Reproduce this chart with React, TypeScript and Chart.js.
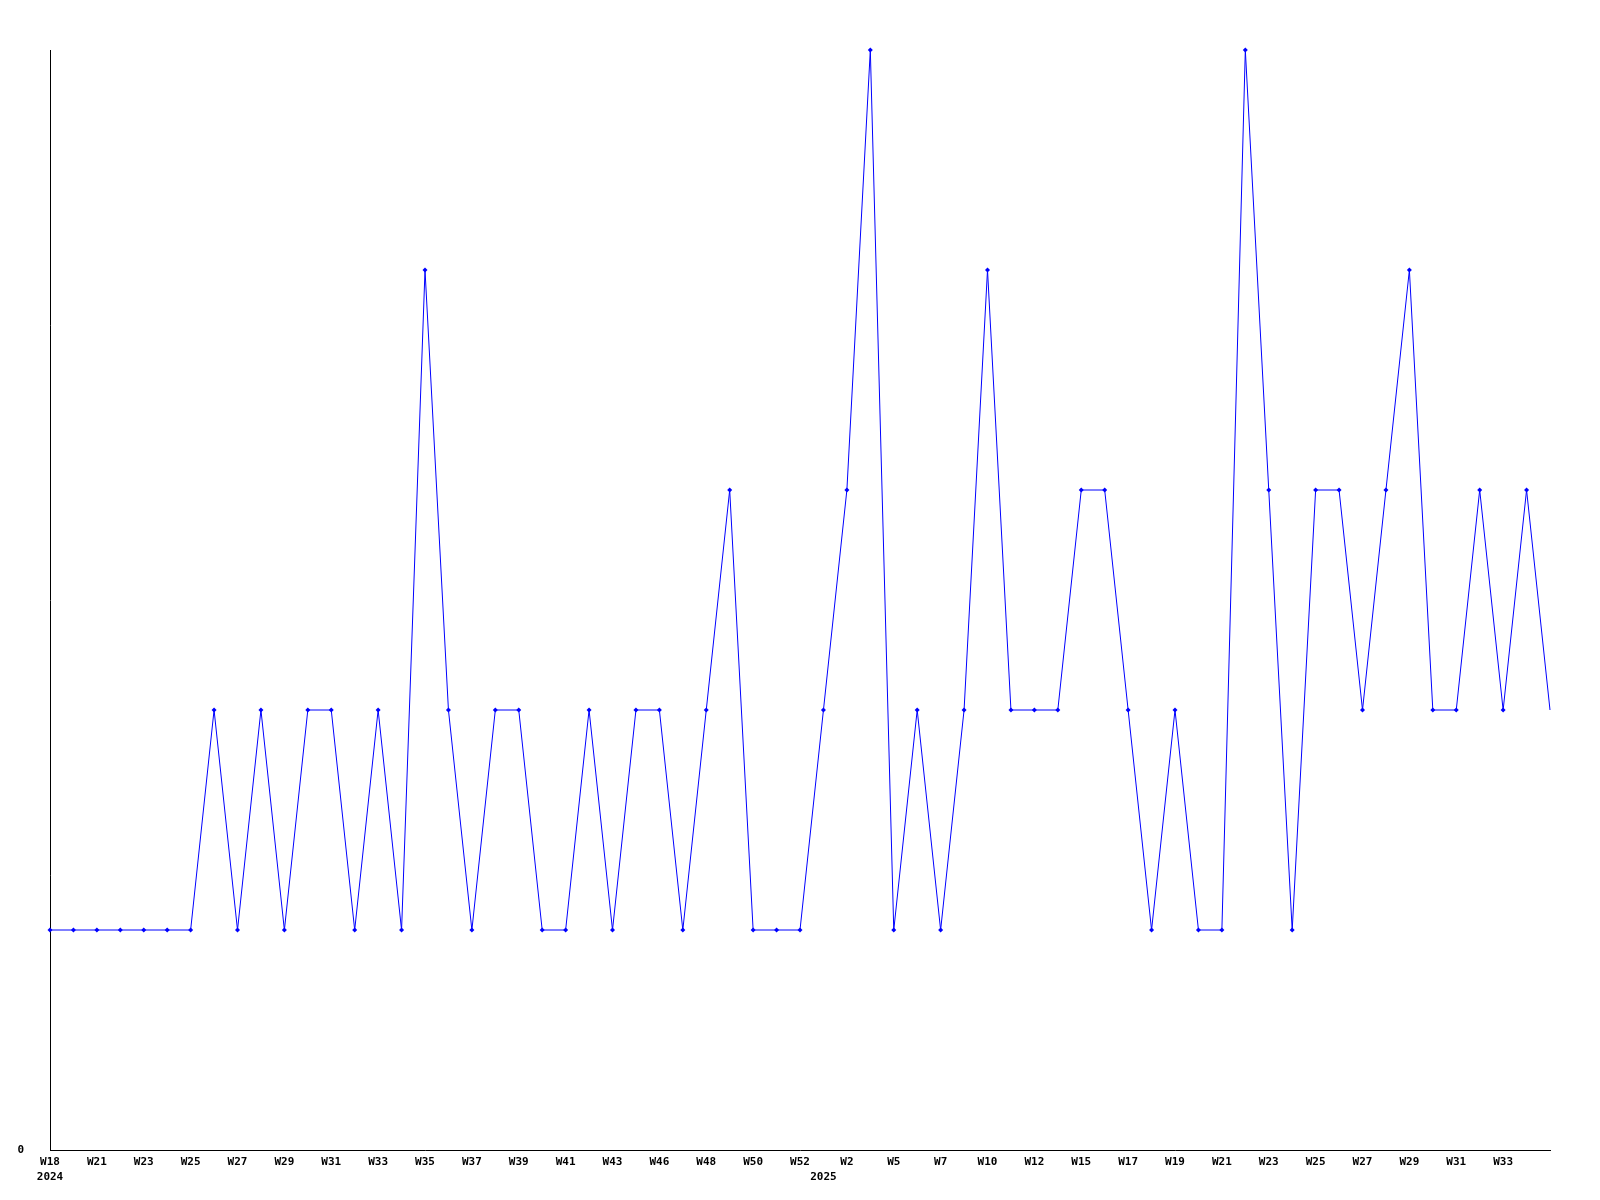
import React, { useEffect, useRef } from "react";
import { Chart, registerables } from "chart.js";

Chart.register(...registerables);

const weeks: string[] = [
  "W18", "W19", "W21", "W22", "W23", "W24", "W25", "W26", "W27", "W28",
  "W29", "W30", "W31", "W32", "W33", "W34", "W35", "W36", "W37", "W38",
  "W39", "W40", "W41", "W42", "W43", "W44", "W46", "W47", "W48", "W49",
  "W50", "W51", "W52", "W1", "W2", "W3", "W5", "W6", "W7", "W8",
  "W10", "W11", "W12", "W13", "W15", "W16", "W17", "W18", "W19", "W20",
  "W21", "W22", "W23", "W24", "W25", "W26", "W27", "W28", "W29", "W30",
  "W31", "W32", "W33", "W34", "W35",
];

const yearLabels: Record<number, string> = { 0: "2024", 33: "2025" };

const counts: number[] = [
  1, 1, 1, 1, 1, 1, 1, 2, 1, 2,
  1, 2, 2, 1, 2, 1, 4, 2, 1, 2,
  2, 1, 1, 2, 1, 2, 2, 1, 2, 3,
  1, 1, 1, 2, 3, 5, 1, 2, 1, 2,
  4, 2, 2, 2, 3, 3, 2, 1, 2, 1,
  1, 5, 3, 1, 3, 3, 2, 3, 4, 2,
  2, 3, 2, 3, 2,
];

const yTicks: number[] = [0];

const FONT = { family: "'DejaVu Sans Mono', monospace", size: 11, weight: "bold" as const, lineHeight: "15px" };

export default function App() {
  const ref = useRef<HTMLCanvasElement | null>(null);

  useEffect(() => {
    if (!ref.current) return;
    const radii = counts.map((_, i) => (i === counts.length - 1 ? 0 : 2.5));
    const last = counts.length - 1;
    const chart = new Chart(ref.current, {
      type: "line",
      data: {
        labels: weeks,
        datasets: [
          {
            data: counts,
            borderColor: "#0000ff",
            backgroundColor: "#0000ff",
            borderWidth: 1,
            pointStyle: "rectRot",
            pointRadius: radii,
            pointBorderWidth: 0,
            pointBackgroundColor: "#0000ff",
            tension: 0,
            fill: false,
            clip: false as any,
          },
        ],
      },
      options: {
        animation: false,
        responsive: false,
        maintainAspectRatio: false,
        layout: { padding: { top: 50, right: 50, left: 0, bottom: 0 } },
        plugins: { legend: { display: false }, tooltip: { enabled: false } },
        scales: {
          x: {
            type: "category",
            offset: false,
            grid: { display: false, drawTicks: false },
            border: { display: true, color: "#000000", width: 1 },
            ticks: {
              autoSkip: false,
              maxRotation: 0,
              minRotation: 0,
              padding: 5,
              color: "#000000",
              font: FONT,
              callback: (_v: any, idx: number) => {
                const yr = yearLabels[idx];
                if (idx % 2 === 0 && idx !== last) return yr ? [weeks[idx], yr] : weeks[idx];
                if (yr) return ["", yr];
                return "";
              },
            },
            afterFit: (s: any) => {
              s.height = 50;
            },
          },
          y: {
            min: 0,
            max: 5,
            grid: { display: false, drawTicks: false },
            border: { display: true, color: "#000000", width: 1 },
            afterBuildTicks: (s: any) => {
              s.ticks = yTicks.map((v) => ({ value: v }));
            },
            ticks: {
              padding: 26,
              color: "#000000",
              font: FONT,
              callback: (v: any) => String(v),
            },
            afterFit: (s: any) => {
              s.width = 50;
            },
          },
        },
      },
    });
    return () => chart.destroy();
  }, []);

  return (
    <div style={{ position: "absolute", left: 0, top: 0, width: 1600, height: 1200, background: "#ffffff" }}>
      <canvas ref={ref} width={1600} height={1200} style={{ display: "block", width: 1600, height: 1200 }} />
    </div>
  );
}
